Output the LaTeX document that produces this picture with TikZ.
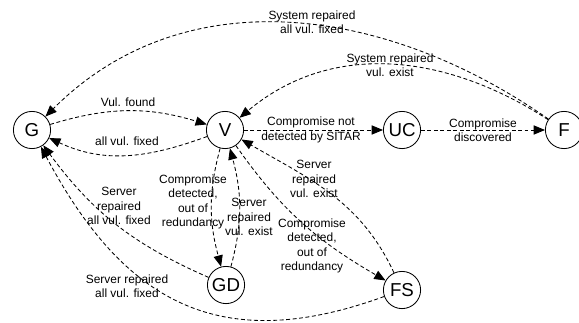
\documentclass[tikz,border=0pt]{standalone}
\usepackage{fontspec}
\setmainfont{Liberation Sans}
\usetikzlibrary{arrows.meta}

\begin{document}
\begin{tikzpicture}[font=\fontsize{8.5}{10.3}\selectfont,>={Triangle[length=8pt,width=6.5pt]},
  state/.style={circle,draw,line width=0.6pt,minimum size=0.93cm,inner sep=0pt,
    font=\fontsize{13.3}{14}\selectfont},
  trans/.style={->,line width=0.6pt,dash pattern=on 2.8pt off 1.8pt},
  lbl/.style={align=center,inner sep=0pt}]
\useasboundingbox (0,0) rectangle (14.475,8.05);
% --- states ---
\node[state] (G)  at (0.8,4.8)   {G};
\node[state] (V)  at (5.625,4.8) {V};
\node[state] (UC) at (10.05,4.8) {UC};
\node[state] (F)  at (14.1,4.8)  {F};
\node[state] (GD) at (5.65,0.925) {GD};
\node[state] (FS) at (10.05,0.8) {FS};
% --- transitions ---
\draw[trans] (G) to[out=17,in=163] (V);
\draw[trans] (V) to[out=200,in=-25] (G);
\draw[trans] (V) -- (UC);
\draw[trans] (UC) -- (F);
\draw[trans] (F) to[out=147,in=40] (V);
\draw[trans] (F) to[out=145,in=45] (G);
\draw[trans] (V) to[out=255,in=105] (GD);
\draw[trans] (GD) to[out=75,in=-75] (V);
\draw[trans] (GD) to[bend left=15] (G);
\draw[trans] (FS) to[out=200,in=-62,looseness=1.2] (G);
\draw[trans] (V) to[out=-55,in=150] (FS);
\draw[trans] (FS) to[out=115,in=-30] (V);
% --- labels ---
\node[lbl] (tFound)  at (3.2,5.5)     {Vul. found};
\node[lbl] (tFixed)  at (3.175,4.53)  {all vul. fixed};
\node[lbl] (tUndet)  at (7.775,4.8)   {Compromise not\\detected by SITAR};
\node[lbl] (tDisc)   at (12.075,4.8)  {Compromise\\discovered};
\node[lbl] (tSysV)   at (9.75,6.425)  {System repaired\\vul. exist};
\node[lbl] (tSysG)   at (7.8,7.5)     {System repaired\\all vul. fixed};
\node[lbl] (tDetGD)  at (4.825,3.0)   {Compromise\\detected,\\out of\\redundancy};
\node[lbl] (tRepGDV) at (6.225,2.625) {Server\\repaired\\vul. exist};
\node[lbl] (tRepGDG) at (2.975,2.9)   {Server\\repaired\\all vul. fixed};
\node[lbl] (tRepFSG) at (3.175,0.9)   {Server repaired\\all vul. fixed};
\node[lbl] (tDetFS)  at (7.8,1.9)     {Compromise\\detected,\\out of\\redundancy};
\node[lbl] (tRepFSV) at (7.85,3.575)  {Server\\repaired\\vul. exist};
\end{tikzpicture}
\end{document}
